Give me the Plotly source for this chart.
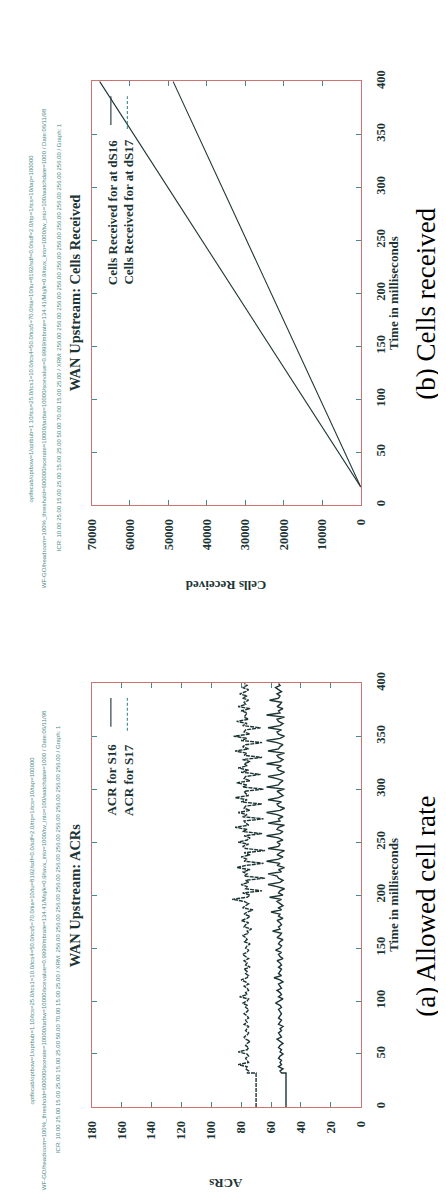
import plotly.graph_objects as go

W, H = 446, 1194

# ---------------- data ----------------
# (a) Allowed cell rate, time in ms
acr_time = [0, 32,
            32, 34, 36, 38, 40, 42, 44, 46, 48, 50,
            52, 54, 56, 58, 60, 62, 64, 66, 68, 70,
            72, 74, 76, 78, 80, 82, 84, 86, 88, 90,
            92, 94, 96, 98, 100, 102, 104, 106, 108, 110,
            112, 114, 116, 118, 120, 122, 124, 126, 128, 130,
            132, 134, 136, 138, 140, 142, 144, 146, 148, 150,
            152, 154, 156, 158, 160, 162, 164, 166, 168, 170,
            172, 174, 176, 178, 180, 182, 184, 186, 188, 190,
            192, 194, 196, 198, 200, 202, 204, 206, 208, 210,
            212, 214, 216, 218, 220, 222, 224, 226, 228, 230,
            232, 234, 236, 238, 240, 242, 244, 246, 248, 250,
            252, 254, 256, 258, 260, 262, 264, 266, 268, 270,
            272, 274, 276, 278, 280, 282, 284, 286, 288, 290,
            292, 294, 296, 298, 300, 302, 304, 306, 308, 310,
            312, 314, 316, 318, 320, 322, 324, 326, 328, 330,
            332, 334, 336, 338, 340, 342, 344, 346, 348, 350,
            352, 354, 356, 358, 360, 362, 364, 366, 368, 370,
            372, 374, 376, 378, 380, 382, 384, 386, 388, 390,
            392, 394, 396, 398, 400]
acr_s16 = [50, 50,
           53, 54, 52, 55, 53, 54, 53, 55, 54, 52,
           54, 53, 55, 54, 52, 54, 56, 53, 54, 55,
           53, 54, 52, 55, 54, 53, 55, 54, 53, 54,
           55, 53, 54, 57, 54, 52, 55, 53, 54, 56,
           53, 54, 55, 52, 54, 58, 53, 55, 54, 53,
           55, 53, 54, 56, 52, 54, 55, 53, 57, 54,
           53, 55, 54, 52, 56, 54, 53, 59, 54, 55,
           53, 54, 56, 52, 55, 54, 60, 53, 55, 52,
           54, 56, 53, 61, 52, 55, 54, 51, 56, 62,
           54, 52, 55, 56, 62, 53, 55, 51, 56, 54,
           63, 55, 52, 56, 54, 51, 62, 55, 54, 56,
           52, 55, 63, 54, 52, 56, 55, 51, 62, 54,
           55, 52, 56, 63, 54, 51, 55, 56, 53, 62,
           55, 52, 54, 56, 51, 63, 55, 54, 52, 56,
           62, 54, 51, 55, 56, 53, 63, 54, 52, 55,
           56, 51, 62, 55, 54, 52, 56, 63, 54, 51,
           55, 56, 53, 62, 54, 52, 55, 56, 51, 63,
           54, 55, 52, 56, 54, 53, 61, 55, 54, 56,
           53, 55, 57, 54, 55]
acr_s17 = [70, 70,
           76, 75, 77, 76, 82, 75, 76, 77, 75, 76,
           82, 76, 75, 77, 76, 74, 77, 78, 76, 75,
           77, 76, 75, 78, 76, 77, 75, 76, 78, 76,
           75, 77, 76, 79, 76, 75, 81, 76, 77, 75,
           76, 78, 75, 77, 80, 76, 75, 77, 76, 78,
           74, 77, 76, 78, 75, 77, 79, 76, 75, 77,
           76, 74, 78, 76, 77, 79, 75, 76, 73, 78,
           77, 75, 80, 76, 74, 78, 76, 72, 79, 77,
           75, 78, 86, 76, 74, 79, 66, 77, 76, 80,
           75, 77, 64, 78, 76, 79, 74, 83, 77, 65,
           78, 76, 80, 74, 78, 64, 77, 79, 75, 82,
           76, 74, 78, 66, 79, 76, 84, 75, 77, 78,
           65, 79, 76, 82, 74, 78, 77, 66, 80, 76,
           84, 75, 77, 78, 65, 79, 76, 83, 74, 78,
           77, 67, 80, 75, 82, 76, 78, 74, 79, 66,
           78, 76, 84, 75, 79, 77, 66, 80, 76, 85,
           74, 78, 77, 67, 79, 76, 83, 75, 78, 77,
           76, 80, 74, 82, 77, 78, 75, 79, 76, 81,
           77, 75, 79, 76, 78]

# (b) Cells received
cells_time = [17, 400]
cells_ds16 = [0, 48800]
cells_ds17 = [0, 67900]

acr_ticks = [0, 20, 40, 60, 80, 100, 120, 140, 160, 180]
cells_ticks = [0, 10000, 20000, 30000, 40000, 50000, 60000, 70000]
time_ticks = [0, 50, 100, 150, 200, 250, 300, 350, 400]

# ---------------- style ----------------
INK = "#1c3434"
FRAME = "#cf7272"
TICK = "#3c8c8c"
HDR = "#4a8a86"
SERIF = "Liberation Serif"


def px(x):
    return x / W


def py(y):
    return 1 - y / H


xdom = [px(79), px(357)]
dom_b = [py(491), py(63)]
dom_a = [py(1099), py(671)]

fig = go.Figure()

fig.add_trace(go.Scatter(x=cells_ds16, y=cells_time, mode="lines",
                         line=dict(color=INK, width=1.1),
                         xaxis="x", yaxis="y", showlegend=False))
fig.add_trace(go.Scatter(x=cells_ds17, y=cells_time, mode="lines",
                         line=dict(color=INK, width=1.1),
                         xaxis="x", yaxis="y", showlegend=False))
fig.add_trace(go.Scatter(x=acr_s16, y=acr_time, mode="lines",
                         line=dict(color=INK, width=1.4),
                         xaxis="x2", yaxis="y2", showlegend=False))
fig.add_trace(go.Scatter(x=acr_s17, y=acr_time, mode="lines",
                         line=dict(color=INK, width=1.4, dash="4px,1px"),
                         xaxis="x2", yaxis="y2", showlegend=False))

tickfont = dict(family=SERIF, size=12.5, color=INK, weight="bold")
common_x = dict(domain=xdom, tickangle=-90, ticks="inside", ticklen=5,
                tickcolor=TICK, showline=True, linecolor=FRAME, linewidth=1,
                mirror="ticks", showgrid=False, zeroline=False,
                tickfont=tickfont, ticklabelstandoff=8)
common_y = dict(tickangle=-90, ticks="inside", ticklen=5, tickcolor=TICK,
                showline=True, linecolor=FRAME, linewidth=1, mirror="ticks",
                showgrid=False, zeroline=False, side="right",
                tickfont=tickfont, ticklabelstandoff=8,
                tickvals=time_ticks, range=[0, 400])

fig.update_layout(
    width=W, height=H, margin=dict(l=0, r=0, t=0, b=0),
    paper_bgcolor="white", plot_bgcolor="white", showlegend=False,
    xaxis=dict(common_x, anchor="y", range=[70000, 0], tickvals=cells_ticks,
               ticktext=[str(v) for v in cells_ticks]),
    yaxis=dict(common_y, anchor="x", domain=dom_b),
    xaxis2=dict(common_x, anchor="y2", range=[180, 0], tickvals=acr_ticks),
    yaxis2=dict(common_y, anchor="x2", domain=dom_a),
)

ann = []


def text(t, x, y, size, angle=-90, bold=True, color=INK, family=SERIF,
         xa="center", ya="middle"):
    ann.append(dict(text=t, x=px(x), y=py(y), xref="paper", yref="paper",
                    showarrow=False, textangle=angle, xanchor=xa, yanchor=ya,
                    font=dict(family=family, size=size, color=color,
                              weight="bold" if bold else "normal")))


L1 = ("optfecab/optbow=1/optbub=1.10/tcs=25.0/tcs1=10.0/tcs4=50.0/tcs5=70.0/"
      "tia=10/tu=8192/sdf=0.0/sdf=2.0/ttp=1/tcs=10/tap=100000")
L2 = ("WF-GO/headroom=100%_threshold=600000/scerate=10000/tarbw=10000/"
      "scevalue=0.9999/mbrate=134.41/Msj/k=0.9/tavx_into=1000/tw_into=100/"
      "watchdate=1000 / Date:06/11/98")
L3 = ("ICR: 10.00 25.00 15.00 25.00 15.00 25.00 50.00 70.00 15.00 25.00 / "
      "XRM: 256.00 256.00 256.00 256.00 256.00 256.00 256.00 256.00 256.00 "
      "256.00 / Graph: 1")

for off in (0, 608):
    text(L1, 17, 490 + off, 6, bold=False, color=HDR,
         family="Liberation Sans", ya="bottom")
    text(L2, 30, 577 + off, 6, bold=False, color=HDR,
         family="Liberation Sans", ya="bottom")
    text(L3, 45, 540 + off, 6, bold=False, color=HDR,
         family="Liberation Sans", ya="bottom")

# titles
text("WAN Upstream: Cells Received", 62, 277, 14.5)
text("WAN Upstream: ACRs", 62, 886, 14.5)
text("Time in milliseconds", 390, 277, 13)
text("Time in milliseconds", 390, 885, 13)
text("Cells Received", 218, 572, 13, angle=180)
text("ACRs", 218, 1177, 13, angle=180)

# legends
text("Cells Received for at dS16", 100, 120, 13, ya="top")
text("Cells Received for at dS17", 117, 120, 13, ya="top")
text("ACR for S16", 100, 730, 13, ya="top")
text("ACR for S17", 117, 730, 13, ya="top")

# captions
text("(b) Cells received", 424, 288, 27, bold=False, color="black")
text("(a) Allowed cell rate", 424, 896, 27, bold=False, color="black")

shapes = []
for top, bot in ((78, 107), (686, 715)):
    shapes.append(dict(type="line", xref="paper", yref="paper",
                       x0=px(99), x1=px(99), y0=py(bot), y1=py(top),
                       line=dict(color=INK, width=1.1)))
    shapes.append(dict(type="line", xref="paper", yref="paper",
                       x0=px(116), x1=px(116), y0=py(bot + 4), y1=py(top),
                       line=dict(color=TICK, width=1.1, dash="3px,2px")))

fig.update_layout(annotations=ann, shapes=shapes)
fig.write_html("out.html")
